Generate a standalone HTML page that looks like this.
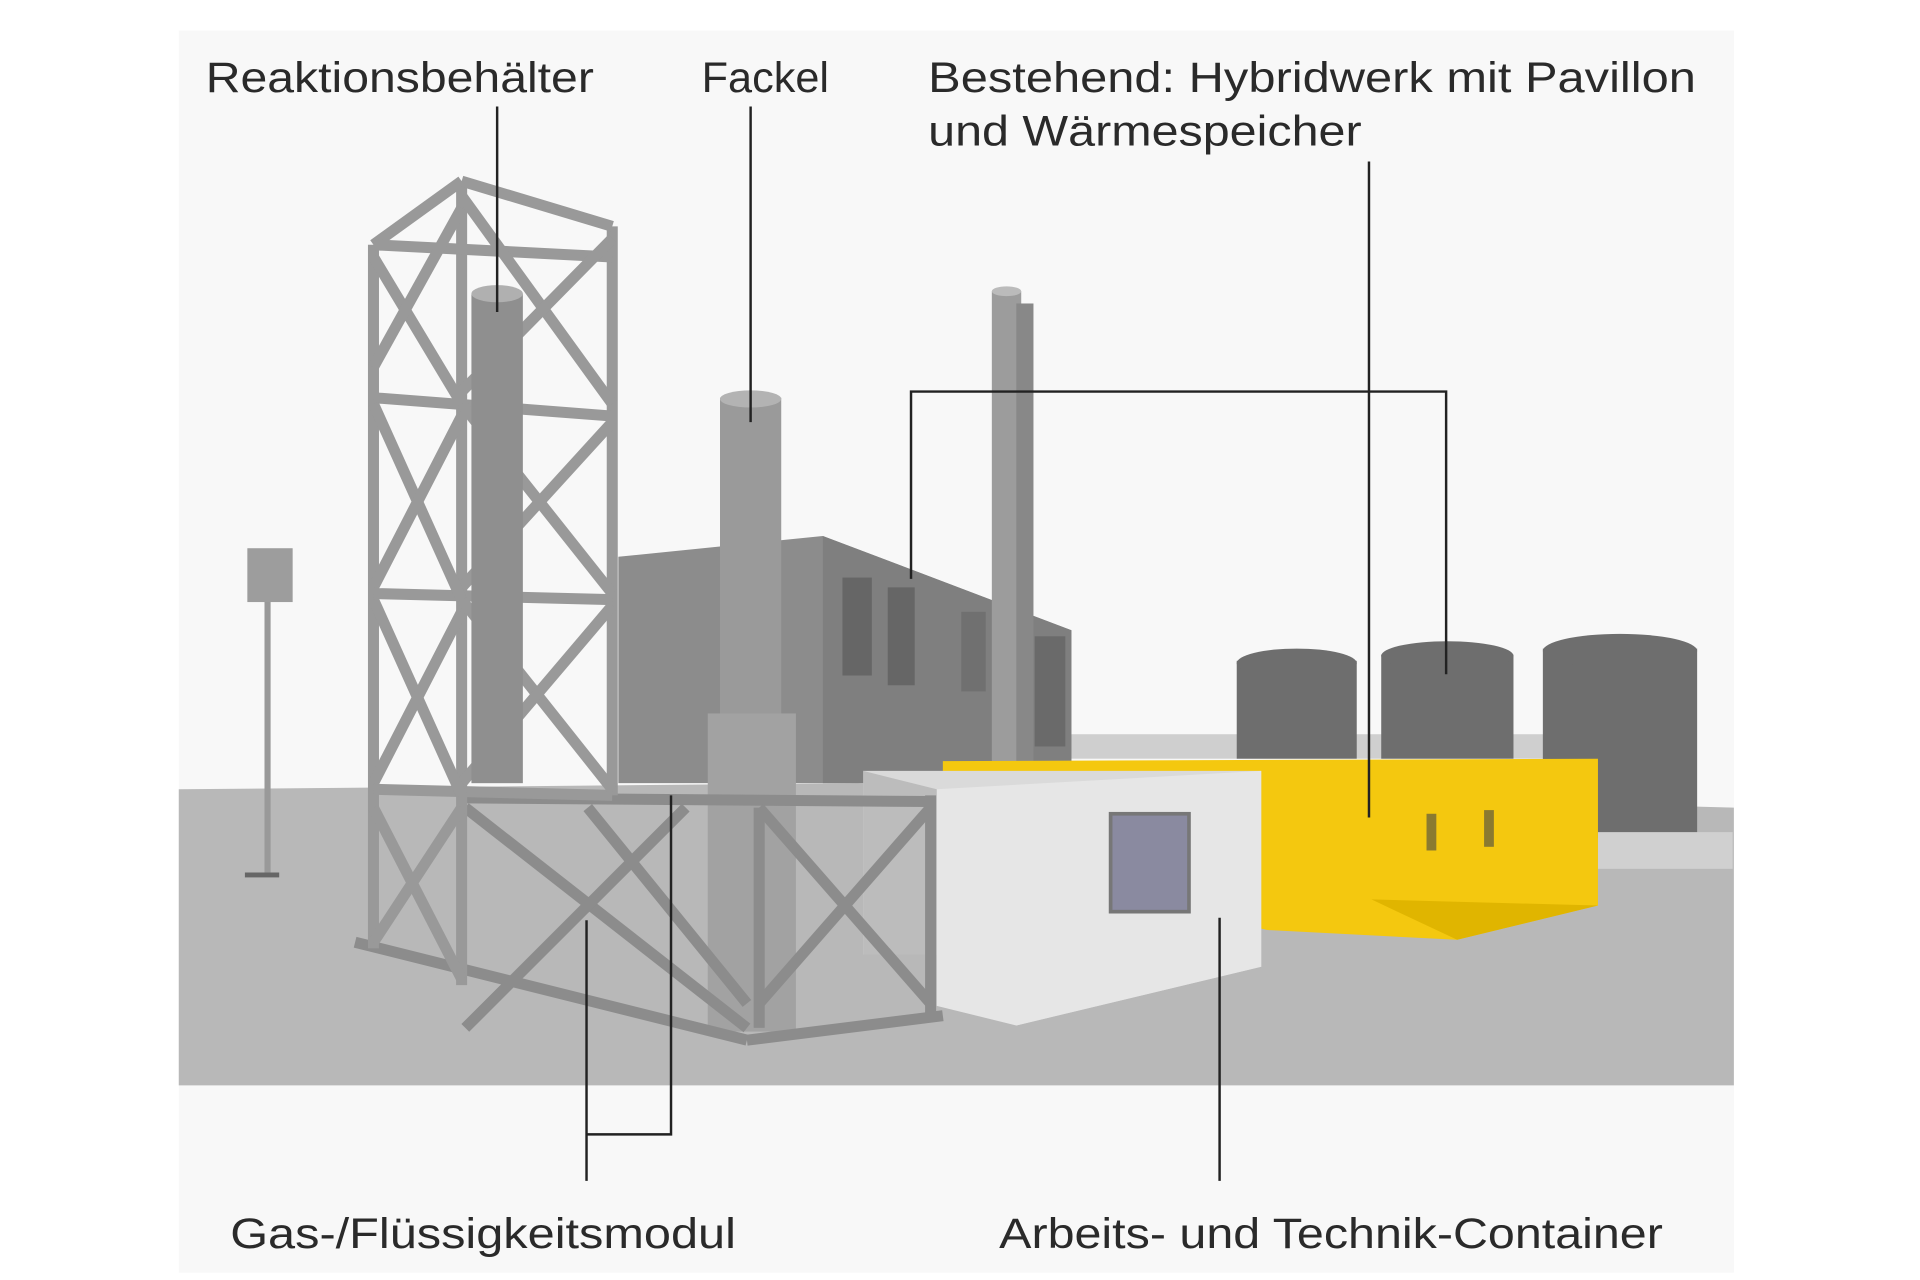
<!DOCTYPE html>
<html><head><meta charset="utf-8"><style>
html,body{margin:0;padding:0;background:#fff;}
svg{display:block;}
text{font-family:"Liberation Sans",sans-serif;font-size:35px;fill:#2a2a2a;}
</style></head><body>
<svg width="1920" height="1280" viewBox="0 0 1568 1046" preserveAspectRatio="none" xmlns="http://www.w3.org/2000/svg">
<rect x="0" y="0" width="1568" height="1046" fill="#ffffff"/>
<rect x="146" y="25" width="1270" height="1015" fill="#f8f8f8"/>
<polygon points="146,645 700,640 1416,660 1416,887 146,887" fill="#b8b8b8"/>
<rect x="875" y="600" width="420" height="20" fill="#cfcfcf"/>
<polygon points="505,455 672,438 875,515 875,640 505,640" fill="#8c8c8c"/>
<polygon points="672,438 875,515 875,640 672,640" fill="#7f7f7f"/>
<rect x="688" y="472" width="24" height="80" fill="#666"/>
<rect x="725" y="480" width="22" height="80" fill="#666"/>
<rect x="785" y="500" width="20" height="65" fill="#707070"/>
<rect x="845" y="520" width="25" height="90" fill="#6a6a6a"/>
<rect x="810" y="238" width="24" height="400" fill="#9c9c9c"/>
<rect x="830" y="248" width="14" height="380" fill="#888"/>
<ellipse cx="822" cy="238" rx="12" ry="4" fill="#bbb"/>
<g fill="#6e6e6e">
<rect x="1010" y="540" width="98" height="80"/><ellipse cx="1059" cy="542" rx="49" ry="12"/>
<rect x="1128" y="535" width="108" height="85"/><ellipse cx="1182" cy="536" rx="54" ry="12"/>
<rect x="1260" y="530" width="126" height="155"/><ellipse cx="1323" cy="532" rx="63" ry="14"/>
</g>
<rect x="1305" y="680" width="110" height="30" fill="#d0d0d0"/>
<polygon points="770,622 1305,620 1305,740 1190,768 1035,760 770,700" fill="#f4c80f"/>
<polygon points="1120,735 1305,740 1190,768" fill="#e0b500"/>
<rect x="1165" y="665" width="8" height="30" fill="#8a7a30"/>
<rect x="1212" y="662" width="8" height="30" fill="#8a7a30"/>
<polygon points="705,630 1030,630 1030,790 830,838 765,780 705,780" fill="#dadada"/>
<polygon points="765,645 1030,630 1030,790 830,838 765,822" fill="#e6e6e6"/>
<polygon points="705,630 765,645 765,780 705,780" fill="#bcbcbc"/>
<rect x="907" y="665" width="64" height="80" fill="#8a8aa0" stroke="#777" stroke-width="3"/>
<rect x="588" y="325" width="50" height="260" fill="#9a9a9a"/>
<ellipse cx="613" cy="326" rx="25" ry="7" fill="#b3b3b3"/>
<rect x="578" y="583" width="72" height="260" fill="#a2a2a2"/>
<g stroke="#8c8c8c" stroke-width="9" fill="none">
<line x1="380" y1="652" x2="760" y2="655"/>
<line x1="380" y1="660" x2="610" y2="840"/>
<line x1="380" y1="840" x2="560" y2="660"/>
<line x1="480" y1="660" x2="610" y2="820"/>
<line x1="620" y1="660" x2="760" y2="820"/>
<line x1="620" y1="820" x2="760" y2="660"/>
<line x1="290" y1="770" x2="610" y2="850"/>
<line x1="610" y1="850" x2="770" y2="830"/>
<line x1="760" y1="650" x2="760" y2="830"/>
<line x1="620" y1="660" x2="620" y2="840"/>
</g>
<g stroke="#999" stroke-width="9" fill="none">
<line x1="305" y1="200" x2="305" y2="775"/>
<line x1="377" y1="148" x2="377" y2="805"/>
<line x1="500" y1="185" x2="500" y2="650"/>
<line x1="305" y1="200" x2="377" y2="148"/>
<line x1="377" y1="148" x2="500" y2="185"/>
<line x1="305" y1="200" x2="500" y2="210"/>
<line x1="305" y1="325" x2="500" y2="340"/>
<line x1="305" y1="485" x2="500" y2="490"/>
<line x1="305" y1="645" x2="500" y2="650"/>
<line x1="377" y1="160" x2="500" y2="330"/>
<line x1="500" y1="195" x2="377" y2="320"/>
<line x1="377" y1="330" x2="500" y2="485"/>
<line x1="500" y1="345" x2="377" y2="480"/>
<line x1="377" y1="490" x2="500" y2="645"/>
<line x1="500" y1="495" x2="377" y2="640"/>
<line x1="305" y1="210" x2="377" y2="330"/>
<line x1="377" y1="170" x2="305" y2="300"/>
<line x1="305" y1="330" x2="377" y2="490"/>
<line x1="377" y1="340" x2="305" y2="480"/>
<line x1="305" y1="490" x2="377" y2="650"/>
<line x1="377" y1="500" x2="305" y2="640"/>
<line x1="305" y1="660" x2="377" y2="800"/>
<line x1="377" y1="660" x2="305" y2="770"/>
</g>
<rect x="385" y="240" width="42" height="400" fill="#8f8f8f"/>
<ellipse cx="406" cy="240" rx="21" ry="7" fill="#b0b0b0"/>
<rect x="216" y="490" width="5" height="225" fill="#999"/>
<rect x="202" y="448" width="37" height="44" fill="#9d9d9d"/>
<rect x="200" y="713" width="28" height="4" fill="#666"/>
<g stroke="#222" stroke-width="2" fill="none">
<polyline points="406,87 406,255"/>
<polyline points="613,87 613,345"/>
<polyline points="1118,132 1118,668"/>
<polyline points="744,473 744,320 1181,320 1181,551"/>
<polyline points="479,752 479,965"/>
<polyline points="548,650 548,927 479,927"/>
<polyline points="996,750 996,965"/>
</g>
<text x="168" y="75" textLength="317" lengthAdjust="spacingAndGlyphs">Reaktionsbehälter</text>
<text x="573" y="75" textLength="104" lengthAdjust="spacingAndGlyphs">Fackel</text>
<text x="758" y="75" textLength="627" lengthAdjust="spacingAndGlyphs">Bestehend: Hybridwerk mit Pavillon</text>
<text x="758" y="119" textLength="354" lengthAdjust="spacingAndGlyphs">und Wärmespeicher</text>
<text x="188" y="1020" textLength="413" lengthAdjust="spacingAndGlyphs">Gas-/Flüssigkeitsmodul</text>
<text x="816" y="1020" textLength="542" lengthAdjust="spacingAndGlyphs">Arbeits- und Technik-Container</text>
</svg>
</body></html>
